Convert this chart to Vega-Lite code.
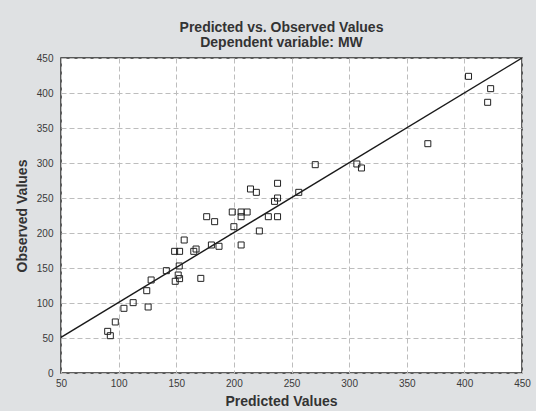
{
  "$schema": "https://vega.github.io/schema/vega-lite/v6.json",
  "width": 461,
  "height": 315,
  "autosize": {"type": "none"},
  "padding": {"left": 61, "top": 58, "right": 14, "bottom": 38},
  "background": "#dfe1e3",
  "title": {
    "text": ["Predicted vs. Observed Values", "Dependent variable: MW"],
    "anchor": "middle",
    "frame": "group",
    "font": "Liberation Sans",
    "fontSize": 14,
    "fontWeight": "bold",
    "color": "#333333",
    "lineHeight": 15,
    "offset": 3,
    "dx": -10
  },
  "config": {
    "view": {"stroke": "#2b2b2b", "strokeWidth": 1.5, "fill": "white"},
    "axis": {
      "domain": false,
      "ticks": false,
      "grid": true,
      "gridColor": "#bdbdbd",
      "gridDash": [5, 3],
      "gridWidth": 1,
      "labelOverlap": false,
      "labelFont": "Liberation Sans",
      "labelFontSize": 10,
      "labelColor": "#3a3a3a",
      "titleFont": "Liberation Sans",
      "titleFontSize": 14,
      "titleFontWeight": "bold",
      "titleColor": "#333333"
    }
  },
  "datasets": {
    "points": [
      {"predicted": 90.5, "observed": 59.5},
      {"predicted": 92.8, "observed": 53.3},
      {"predicted": 97.1, "observed": 72.9},
      {"predicted": 104.6, "observed": 92.4},
      {"predicted": 112.6, "observed": 100.5},
      {"predicted": 125.6, "observed": 94.3},
      {"predicted": 124.4, "observed": 117.6},
      {"predicted": 128.2, "observed": 132.9},
      {"predicted": 141.4, "observed": 146.2},
      {"predicted": 149.1, "observed": 131.0},
      {"predicted": 151.7, "observed": 140.0},
      {"predicted": 152.9, "observed": 134.8},
      {"predicted": 152.6, "observed": 152.9},
      {"predicted": 148.6, "observed": 173.8},
      {"predicted": 152.9, "observed": 173.8},
      {"predicted": 156.9, "observed": 190.0},
      {"predicted": 165.2, "observed": 173.8},
      {"predicted": 167.2, "observed": 177.1},
      {"predicted": 171.3, "observed": 135.2},
      {"predicted": 176.4, "observed": 223.3},
      {"predicted": 183.3, "observed": 216.2},
      {"predicted": 180.5, "observed": 182.9},
      {"predicted": 187.1, "observed": 181.0},
      {"predicted": 198.6, "observed": 230.0},
      {"predicted": 200.0, "observed": 209.0},
      {"predicted": 206.3, "observed": 230.0},
      {"predicted": 206.3, "observed": 223.3},
      {"predicted": 211.5, "observed": 230.0},
      {"predicted": 206.3, "observed": 182.9},
      {"predicted": 214.4, "observed": 262.9},
      {"predicted": 219.5, "observed": 258.1},
      {"predicted": 222.1, "observed": 202.9},
      {"predicted": 229.9, "observed": 223.3},
      {"predicted": 237.9, "observed": 271.0},
      {"predicted": 237.9, "observed": 250.0},
      {"predicted": 235.3, "observed": 245.2},
      {"predicted": 237.9, "observed": 223.3},
      {"predicted": 256.3, "observed": 258.1},
      {"predicted": 270.6, "observed": 297.6},
      {"predicted": 306.7, "observed": 298.6},
      {"predicted": 310.7, "observed": 292.9},
      {"predicted": 368.3, "observed": 327.6},
      {"predicted": 403.6, "observed": 423.8},
      {"predicted": 422.8, "observed": 406.2},
      {"predicted": 420.2, "observed": 386.7}
    ],
    "fit": [
      {"predicted": 50, "observed": 51},
      {"predicted": 450, "observed": 450}
    ]
  },
  "encoding": {
    "x": {
      "field": "predicted",
      "type": "quantitative",
      "scale": {"domain": [50, 450], "nice": false, "zero": false},
      "axis": {"title": "Predicted Values", "values": [50, 100, 150, 200, 250, 300, 350, 400, 450], "labelPadding": 5, "titlePadding": 6, "labelFlush": false, "titleX": 220, "titleAlign": "center"}
    },
    "y": {
      "field": "observed",
      "type": "quantitative",
      "scale": {"domain": [0, 450], "nice": false, "zero": false},
      "axis": {"title": "Observed Values", "values": [0, 50, 100, 150, 200, 250, 300, 350, 400, 450], "labelPadding": 8, "titlePadding": 7, "labelFlush": false}
    }
  },
  "layer": [
    {
      "data": {"name": "fit"},
      "mark": {"type": "line", "color": "#1a1a1a", "strokeWidth": 1.4, "clip": true}
    },
    {
      "data": {"name": "points"},
      "mark": {"type": "point", "shape": "square", "filled": false, "size": 36, "stroke": "#222222", "strokeWidth": 1, "opacity": 1}
    }
  ]
}
